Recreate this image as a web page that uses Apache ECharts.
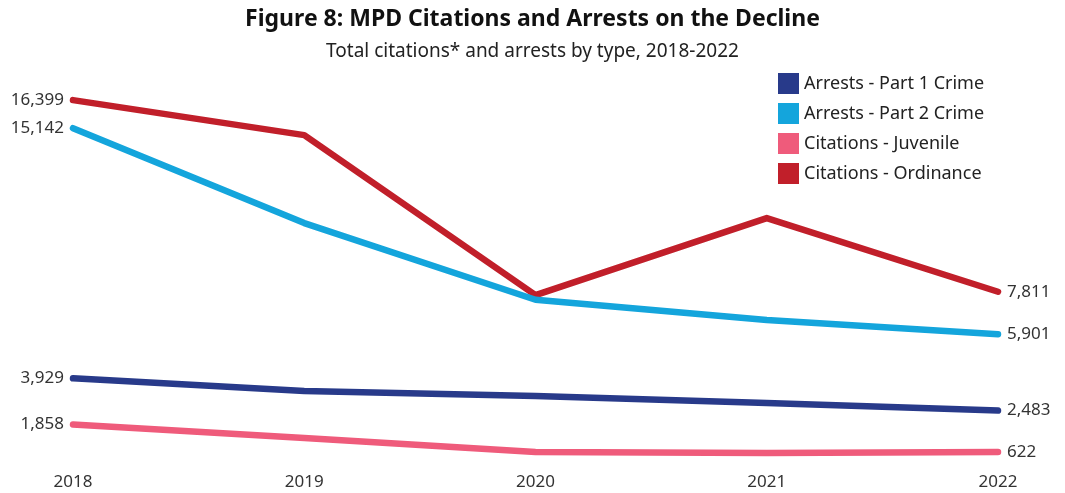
<!DOCTYPE html>
<html><head><meta charset="utf-8">
<script src="https://cdn.jsdelivr.net/npm/echarts@6/dist/echarts.min.js"></script>
<style>html,body{margin:0;padding:0;background:#fff}#c{width:1065px;height:493px}</style>
</head><body><div id="c"></div>
<script>
const years = ['2018','2019','2020','2021','2022'];
const part1 = [3929, 3357, 3133, 2820, 2483];
const part2 = [15142, 10887, 7452, 6539, 5901];
const juvenile = [1858, 1250, 623, 578, 622];
const ordinance = [16399, 14831, 7660, 11111, 7811];
const seriesNames = ['Arrests - Part 1 Crime','Arrests - Part 2 Crime','Citations - Juvenile','Citations - Ordinance'];
const colors = ['#283a8a','#14a5dc','#ef5b7b','#c11f2a'];
const FONT = '"Noto Sans", sans-serif';

function mk(name, vals, color, z){
  return {
    name, type:'line',
    data: vals.map((v,i)=>({value:v, label:{show: i===0 || i===vals.length-1, position: i===0?'left':'right'}})),
    symbol:'circle', symbolSize:0.1, showSymbol:true, smooth:false, z,
    lineStyle:{width:6.5, color, cap:'round', join:'round'},
    itemStyle:{color},
    label:{show:false, formatter:p=>p.value.toLocaleString('en-US'), color:'#333', fontSize:17, fontFamily:FONT, distance:9},
    emphasis:{disabled:true}
  };
}
const chart = echarts.init(document.getElementById('c'));
chart.setOption({
  animation:false,
  title:{text:'Figure 8: MPD Citations and Arrests on the Decline', subtext:'Total citations* and arrests by type, 2018-2022',
    left:'center', top:3, itemGap:11,
    textStyle:{fontFamily:FONT, fontWeight:'bold', fontSize:23, color:'#111'},
    subtextStyle:{fontFamily:FONT, fontSize:19, color:'#222'}},
  legend:{orient:'vertical', left:773, top:68, itemWidth:21, itemHeight:21, itemGap:9,
    icon:'rect', data:seriesNames,
    textStyle:{fontFamily:FONT, fontSize:18, color:'#222'}},
  grid:{left:73, right:1065-998, top:64.4, bottom:27, containLabel:false},
  xAxis:{type:'category', data:years, boundaryGap:false,
    axisLine:{show:false}, axisTick:{show:false},
    axisLabel:{fontFamily:FONT, fontSize:17, color:'#333', margin:8}},
  yAxis:{type:'value', min:0, max:18000, show:false, splitLine:{show:false}},
  series:[
    mk(seriesNames[0], part1, colors[0], 3),
    mk(seriesNames[1], part2, colors[1], 2),
    mk(seriesNames[2], juvenile, colors[2], 3),
    mk(seriesNames[3], ordinance, colors[3], 1)
  ]
});
</script></body></html>
